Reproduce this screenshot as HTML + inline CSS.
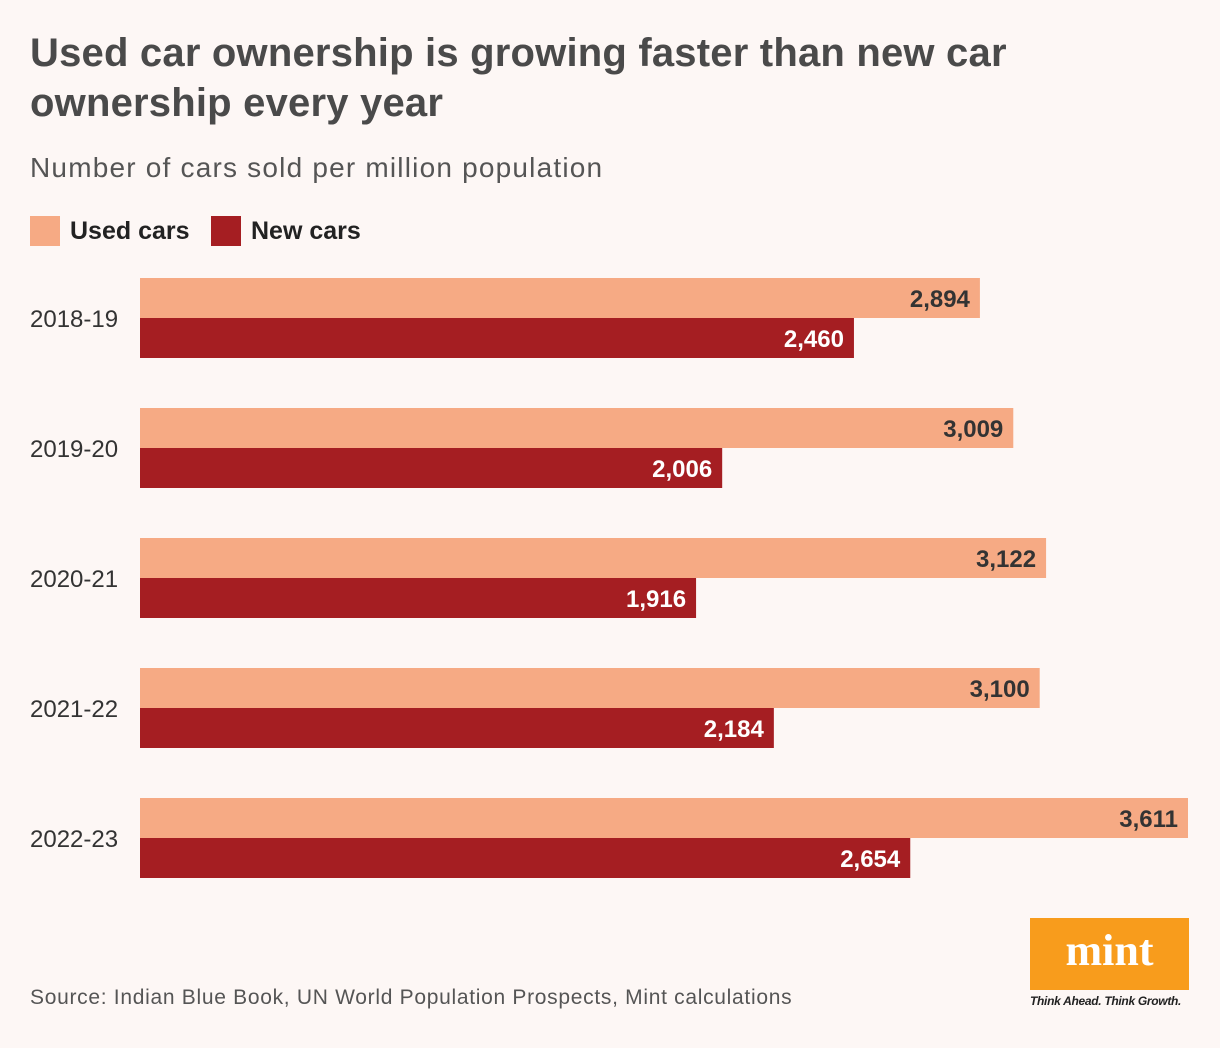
<!DOCTYPE html>
<html><head><meta charset="utf-8"><style>
body{margin:0;width:1220px;height:1048px;background:#fdf7f5;font-family:"Liberation Sans",sans-serif;position:relative;overflow:hidden}
.t{position:absolute;left:30px;top:28px;font-size:40px;font-weight:bold;color:#4a4a4a;line-height:50px;letter-spacing:0.2px}
.sub{position:absolute;left:30px;top:152px;font-size:28px;color:#555;letter-spacing:1.2px}
.leg{position:absolute;top:216px;font-size:25px;font-weight:bold;color:#222;height:30px;line-height:30px}
.sw{display:inline-block;width:30px;height:30px;vertical-align:top;margin-right:10px}
.src{position:absolute;left:30px;top:986px;font-size:21px;color:#555;letter-spacing:0.7px}
</style></head><body>
<div class="t">Used car ownership is growing faster than new car<br>ownership every year</div>
<div class="sub">Number of cars sold per million population</div>
<div class="leg" style="left:30px"><span class="sw" style="background:#f6aa84"></span>Used cars</div>
<div class="leg" style="left:211px"><span class="sw" style="background:#a51e22"></span>New cars</div>
<svg id="c" width="1220" height="1048" style="position:absolute;left:0;top:0"></svg>
<div class="src">Source: Indian Blue Book, UN World Population Prospects, Mint calculations</div>
<div style="position:absolute;left:1030px;top:918px;width:159px;height:72px;background:#f89c1c;color:#fff;font-family:'Liberation Serif',serif;font-weight:bold;font-size:44px;text-align:center;line-height:66px">mint</div>
<div style="position:absolute;left:1030px;top:994px;font-size:12px;font-style:italic;font-weight:bold;color:#222;letter-spacing:-0.3px">Think Ahead. Think Growth.</div>
<script>
const years=["2018-19","2019-20","2020-21","2021-22","2022-23"];
const usedCars=[2894,3009,3122,3100,3611];
const newCars=[2460,2006,1916,2184,2654];
const svg=document.getElementById('c');
const NS='http://www.w3.org/2000/svg';
const x0=140, k=1048/3611;
const xs=v=>v*k;
const fmt=v=>v.toLocaleString('en-US');
function mk(tag,a){const e=document.createElementNS(NS,tag);for(const n in a)e.setAttribute(n,a[n]);svg.appendChild(e);return e;}
years.forEach((y,i)=>{
  const top=278+i*130;
  const lab=mk('text',{x:30,y:top+49,'font-size':24,fill:'#333','font-family':'Liberation Sans, sans-serif'});
  lab.textContent=y;
  
  
  [[usedCars[i],'#f6aa84','#333',top,'bar-used'],[newCars[i],'#a51e22','#fff',top+40,'bar-new']].forEach(([v,c,tc,yy,nm])=>{
    const w=xs(v);
    const r=mk('rect',{x:x0,y:yy,width:w,height:40,fill:c});
    
    
    const t=mk('text',{x:x0+w-10,y:yy+29,'font-size':24,'font-weight':'bold',fill:tc,'text-anchor':'end','font-family':'Liberation Sans, sans-serif'});
    t.textContent=fmt(v);
    
    
  });
});
</script>
</body></html>
